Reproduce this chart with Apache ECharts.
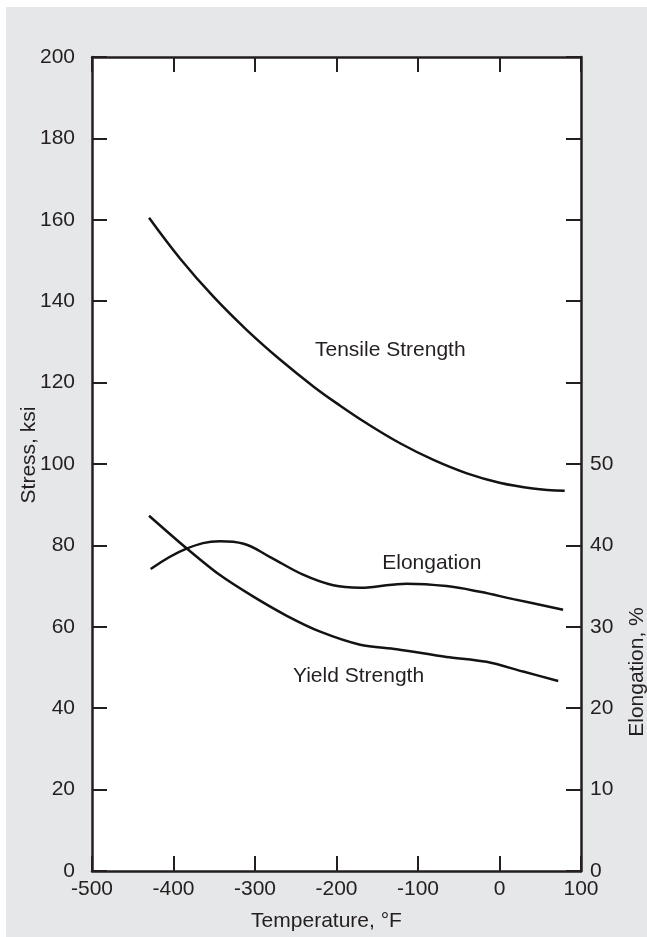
<!DOCTYPE html>
<html>
<head>
<meta charset="utf-8">
<script src="https://cdn.jsdelivr.net/npm/echarts@6/dist/echarts.min.js"></script>
<style>
  html, body { margin: 0; padding: 0; background: #ffffff; }
  #bg { position: absolute; left: 6px; top: 7px; right: 0; bottom: 0; background: #e6e7e8; }
  #chart { position: absolute; left: 0; top: 0; width: 647px; height: 937px; }
</style>
</head>
<body>
<div id="bg"></div>
<div id="chart"></div>
<script>
// Temperature (°F) and values
const tensileTemp = [-430, -392, -351, -310, -269, -228, -196, -163, -122, -81, -40, 0, 41, 80];
const tensileKsi  = [160.5, 150.5, 141.1, 132.9, 125.6, 119.0, 114.4, 110.0, 105.1, 101.0, 97.7, 95.4, 94.0, 93.4];

const yieldTemp = [-430, -384, -343, -302, -261, -220, -171, -126, -65, -16, 29, 72];
const yieldKsi  = [87.3, 79.3, 72.7, 67.4, 62.7, 58.8, 55.6, 54.5, 52.6, 51.4, 49.0, 46.7];

const elongTemp = [-428, -384, -343, -314, -282, -241, -204, -171, -155, -114, -65, -24, 17, 78];
const elongPct  = [37.1, 39.6, 40.5, 40.2, 38.6, 36.4, 35.1, 34.8, 34.9, 35.3, 35.0, 34.3, 33.4, 32.1];

const xTicks = { min: -500, max: 100, step: 100 };
const stressTicks = { min: 0, max: 200, step: 20 };
const elongTicks = { min: 0, max: 100, step: 10, lastLabel: 50 };

const curveLabels = ['Tensile Strength', 'Elongation', 'Yield Strength'];
const curveLabelTemp = [-134, -83, -173];
const curveLabelKsi = [128, 75.7, 47.9];

const ink = '#231f20';
const font = 'Liberation Sans, Arial, Helvetica, sans-serif';

function pairs(xs, ys) { return xs.map((x, i) => [x, ys[i]]); }

const chart = echarts.init(document.getElementById('chart'), null, { renderer: 'canvas' });

const axisLine = { show: true, onZero: false, lineStyle: { color: ink, width: 2.5 } };
const tick = { show: true, inside: true, length: 15, lineStyle: { color: ink, width: 2 } };

chart.setOption({
  animation: false,
  backgroundColor: 'transparent',
  grid: { left: 92, right: 66, top: 57, bottom: 66, show: true, backgroundColor: '#ffffff', borderWidth: 0 },
  xAxis: [
    {
      type: 'value', position: 'bottom', min: xTicks.min, max: xTicks.max, interval: xTicks.step,
      axisLine, axisTick: tick, splitLine: { show: false },
      axisLabel: { color: ink, fontSize: 21, fontFamily: font, margin: 8 },
      name: 'Temperature, °F', nameLocation: 'middle', nameGap: 40, nameMoveOverlap: false,
      nameTextStyle: { color: ink, fontSize: 21, fontFamily: font, padding: [0, 20, 0, 0] }
    },
    {
      type: 'value', position: 'top', min: xTicks.min, max: xTicks.max, interval: xTicks.step,
      axisLine, axisTick: tick, splitLine: { show: false }, axisLabel: { show: false }
    }
  ],
  yAxis: [
    {
      type: 'value', position: 'left', min: stressTicks.min, max: stressTicks.max, interval: stressTicks.step,
      axisLine, axisTick: tick, splitLine: { show: false },
      axisLabel: { color: ink, fontSize: 21, fontFamily: font, margin: 17 },
      name: 'Stress, ksi', nameLocation: 'middle', nameGap: 52, nameRotate: 90, nameMoveOverlap: false,
      nameTextStyle: { color: ink, fontSize: 21, fontFamily: font, padding: [0, 0, 0, 18] }
    },
    {
      type: 'value', position: 'right', min: elongTicks.min, max: elongTicks.max, interval: elongTicks.step,
      axisLine, axisTick: tick, splitLine: { show: false },
      axisLabel: {
        color: ink, fontSize: 21, fontFamily: font, margin: 9,
        formatter: v => (v <= elongTicks.lastLabel ? String(v) : '')
      }
    }
  ],
  graphic: [
    {
      type: 'text', x: 637, y: 672, rotation: Math.PI / 2,
      style: { text: 'Elongation, %', fill: ink, font: '21px ' + font, textAlign: 'center', textVerticalAlign: 'middle' }
    }
  ],
  series: [
    {
      name: 'Tensile Strength', type: 'line', xAxisIndex: 0, yAxisIndex: 0, smooth: 0.4,
      showSymbol: false, silent: true, data: pairs(tensileTemp, tensileKsi),
      lineStyle: { color: '#141213', width: 2.5 }
    },
    {
      name: 'Yield Strength', type: 'line', xAxisIndex: 0, yAxisIndex: 0, smooth: 0.3,
      showSymbol: false, silent: true, data: pairs(yieldTemp, yieldKsi),
      lineStyle: { color: '#141213', width: 2.5 }
    },
    {
      name: 'Elongation', type: 'line', xAxisIndex: 0, yAxisIndex: 1, smooth: 0.4,
      showSymbol: false, silent: true, data: pairs(elongTemp, elongPct),
      lineStyle: { color: '#141213', width: 2.5 }
    },
    {
      name: 'labels', type: 'scatter', xAxisIndex: 0, yAxisIndex: 0, silent: true,
      symbolSize: 1, itemStyle: { color: 'rgba(0,0,0,0)', opacity: 1 },
      data: curveLabels.map((t, i) => ({ name: t, value: [curveLabelTemp[i], curveLabelKsi[i]] })),
      label: {
        show: true, position: 'inside', formatter: p => p.name, color: ink, opacity: 1,
        textBorderWidth: 0, fontSize: 21, fontFamily: font
      }
    }
  ]
});
</script>
</body>
</html>
